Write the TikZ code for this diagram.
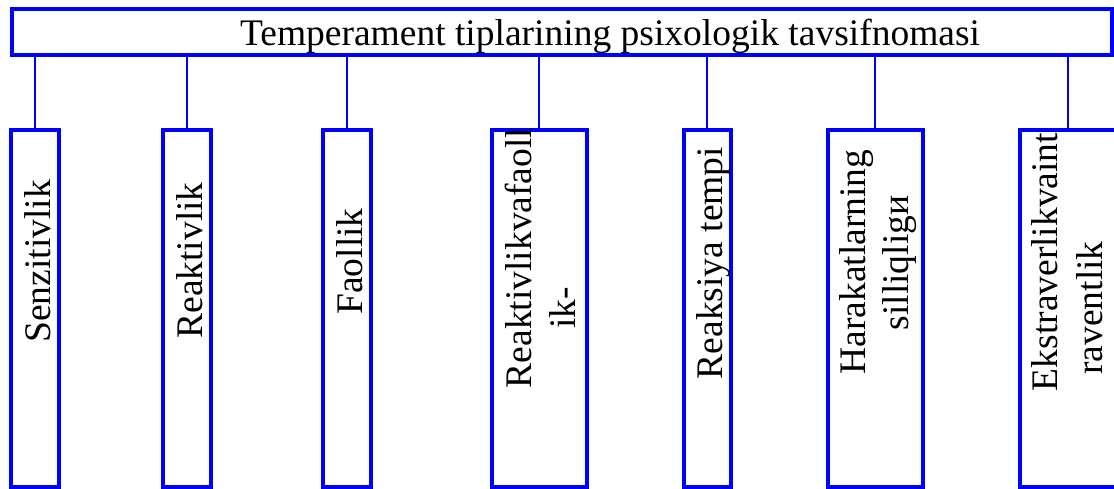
\documentclass[tikz,border=0pt]{standalone}
\usepackage{fontspec}
\setmainfont{Liberation Serif}
\definecolor{bl}{RGB}{0,0,255}
\begin{document}
\begin{tikzpicture}[x=1pt,y=1pt,
 frame/.style={draw=bl, line width=4pt, fill=white, inner sep=0pt, outer sep=0pt},
 vbox/.style={frame, minimum height=356.5},
 conn/.style={draw=bl, line width=2pt},
 lbl/.style={font=\fontsize{37.5}{44}\selectfont, inner sep=0pt, anchor=base},
 vlbl/.style={lbl, rotate=90}]
\useasboundingbox (0,0) rectangle (1114,-489);
\clip (0,0) rectangle (1114,-489);
\node[frame, minimum width=1100.5, minimum height=46] (top) at (561.75,-32.5) {};
\node[lbl] (toptext) at (610,-46) {Temperament tiplarining psixologik tavsifnomasi};

\node[vbox, minimum width=48] (b1) at (35,-308.25) {};
\node[vbox, minimum width=48] (b2) at (187,-308.25) {};
\node[vbox, minimum width=48] (b3) at (347,-308.25) {};
\node[vbox, minimum width=95] (b4) at (539.5,-308.25) {};
\node[vbox, minimum width=47] (b5) at (707,-308.25) {};
\node[vbox, minimum width=95] (b6) at (875.5,-308.25) {};
\node[vbox, minimum width=96] (b7) at (1068,-308.25) {};

\foreach \b in {b1,b2,b3,b5,b7}
  \draw[conn] (top.south -| \b.north) -- (\b.north);
\foreach \b in {b4,b6}
  \draw[conn] ([xshift=-0.5pt]top.south -| \b.north) -- ([xshift=-0.5pt]\b.north);

\node[vlbl] (t1) at (50,-261.5) {Senzitivlik};
\node[vlbl] (t2) at (202,-260.5) {Reaktivlik};
\node[vlbl] (t3) at (362,-261.5) {Faollik};
\node[vlbl] (t4a) at (531,-258) {Reaktivlikvafaoll};
\node[vlbl] (t4b) at (575,-308) {ik-};
\node[vlbl] (t5) at (722,-263) {Reaksiya tempi};
\node[vlbl] (t6a) at (865,-262) {Harakatlarning};
\node[vlbl] (t6b) at (908,-263) {silliqligи};
\node[vlbl] (t7a) at (1057,-262) {Ekstraverlikvaint};
\node[vlbl] (t7b) at (1102,-308) {raventlik};
\end{tikzpicture}
\end{document}
